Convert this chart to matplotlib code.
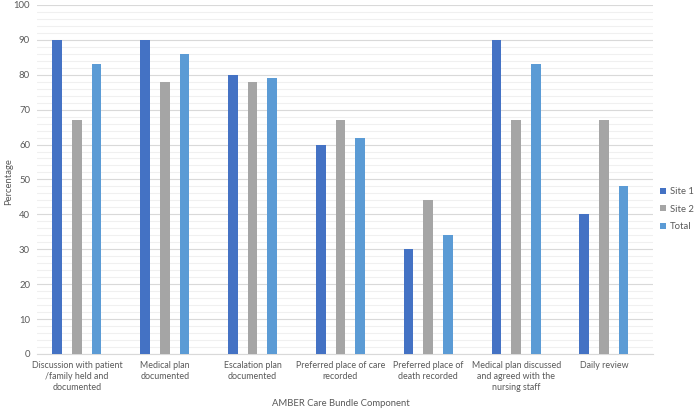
import matplotlib
matplotlib.use("Agg")
import matplotlib.pyplot as plt
import numpy as np
from matplotlib.ticker import MultipleLocator

categories = [
    "Discussion with patient\n/family held and\ndocumented",
    "Medical plan\ndocumented",
    "Escalation plan\ndocumented",
    "Preferred place of care\nrecorded",
    "Preferred place of\ndeath recorded",
    "Medical plan discussed\nand agreed with the\nnursing staff",
    "Daily review",
]
series_names = ["Site 1", "Site 2", "Total"]
site1 = [90, 90, 80, 60, 30, 90, 40]
site2 = [67, 78, 78, 67, 44, 67, 67]
total = [83, 86, 79, 62, 34, 83, 48]
colors = ["#4472C4", "#A5A5A5", "#5B9BD5"]

plt.rcParams['font.family'] = ['Lato', 'DejaVu Sans']
fig = plt.figure(figsize=(7, 4.12), dpi=100)
ax = fig.add_axes([37 / 700, 0.141, 616 / 700, 0.847])

x = np.arange(len(categories))
w = 0.11
off = 0.224
for i, (vals, name, c) in enumerate(zip([site1, site2, total], series_names, colors)):
    ax.bar(x + (i - 1) * off, vals, width=w, color=c, label=name, zorder=3)

ax.set_xlim(-0.455, len(categories) - 1 + 0.558)
ax.set_ylim(0, 100)
ax.yaxis.set_major_locator(MultipleLocator(10))
ax.yaxis.set_minor_locator(MultipleLocator(2))
ax.grid(axis='y', which='major', color='#d9d9d9', linewidth=0.8, zorder=0)
ax.grid(axis='y', which='minor', color='#f0f0f0', linewidth=0.8, zorder=0)
for s in ['top', 'right', 'left']:
    ax.spines[s].set_visible(False)
ax.spines['bottom'].set_color('#d9d9d9')
ax.tick_params(axis='both', which='both', length=0, colors='#595959', labelsize=6.8)
ax.tick_params(axis='y', pad=5)
ax.set_xticks(x)
ax.set_xticklabels(categories, fontsize=6.4, color='#595959', linespacing=1.3)
ax.tick_params(axis='x', pad=5)
fig.text(0.012, 0.56, "Percentage", rotation=90, fontsize=6.8, color='#595959',
         ha='center', va='center')
fig.text(0.487, 1 - 404 / 412, "AMBER Care Bundle Component", fontsize=6.8,
         color='#595959', ha='center', va='center')

leg = ax.legend(loc='center left', bbox_to_anchor=(1.012, 0.415), frameon=False,
                borderaxespad=0, borderpad=0,
                fontsize=6.8, handlelength=0.55, handleheight=0.55, handletextpad=0.45,
                labelspacing=0.9, labelcolor='#595959')

fig.savefig("out.png", dpi=100, facecolor='white')
